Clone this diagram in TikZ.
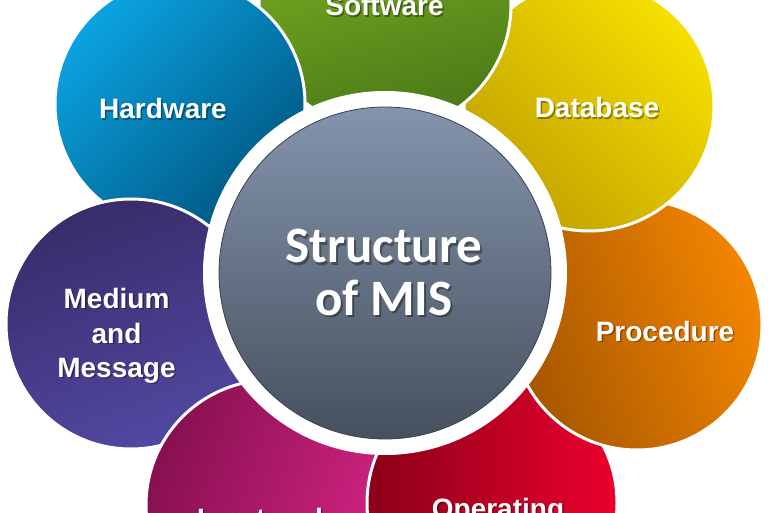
\documentclass[tikz,border=0pt]{standalone}
\usepackage{fontspec}
\newfontfamily\labfont{Liberation Sans}
\newfontfamily\ctrfont{Carlito}
\definecolor{hwA}{RGB}{10,164,226}
\definecolor{hwB}{RGB}{0,86,128}
\definecolor{swA}{RGB}{126,180,34}
\definecolor{swB}{RGB}{74,120,24}
\definecolor{dbA}{RGB}{246,224,0}
\definecolor{dbB}{RGB}{194,162,0}
\definecolor{prA}{RGB}{244,134,0}
\definecolor{prB}{RGB}{166,86,0}
\definecolor{opA}{RGB}{236,0,46}
\definecolor{opB}{RGB}{138,0,24}
\definecolor{inA}{RGB}{214,36,132}
\definecolor{inB}{RGB}{134,16,80}
\definecolor{meA}{RGB}{56,44,106}
\definecolor{meB}{RGB}{82,72,162}
\definecolor{ctA}{RGB}{132,148,172}
\definecolor{ctB}{RGB}{70,80,94}
\tikzset{
  petal/.style={draw=white, line width=3pt},
  lbl/.style={text=white, font=\labfont\bfseries\fontsize{28}{30}\selectfont, anchor=base, inner sep=0pt},
  shd/.style={text=black, opacity=0.35, font=\labfont\bfseries\fontsize{28}{30}\selectfont, anchor=base, inner sep=0pt, xshift=1.5pt, yshift=-1.5pt},
  clbl/.style={text=white, font=\ctrfont\bfseries\fontsize{51}{54}\selectfont, anchor=base, inner sep=0pt},
  cshd/.style={text=black, opacity=0.35, font=\ctrfont\bfseries\fontsize{51}{54}\selectfont, anchor=base, inner sep=0pt, xshift=2pt, yshift=-2pt}
}
\newcommand\petallabel[3]{%
  \node[shd] (#1s) at (#2) {#3};
  \node[lbl] (#1) at (#2) {#3};}
\begin{document}
\begin{tikzpicture}[x=1pt,y=1pt]
\useasboundingbox (0,0) rectangle (768,512);
\fill[white] (0,0) rectangle (768,512);
\clip (0,0) rectangle (768,512);
% petals (cyclic overlap)
\path[petal, top color=hwA, bottom color=hwB, shading angle=45] (180,408) circle[radius=125];
\path[petal, top color=meA, bottom color=meB, shading angle=20] (131,188) circle[radius=125];
\path[petal, top color=inA, bottom color=inB, shading angle=-110] (271,7) circle[radius=125];
\path[petal, top color=opA, bottom color=opB, shading angle=-90] (492,9) circle[radius=125];
\path[petal, top color=prA, bottom color=prB, shading angle=-70] (637,187) circle[radius=125];
\path[petal, top color=dbA, bottom color=dbB, shading angle=-45] (589,406) circle[radius=125];
\path[petal, top color=swA, bottom color=swB, shading angle=15] (385,507) circle[radius=126];
\begin{scope}
  \clip (0,317) rectangle (768,512);
  \path[petal, top color=hwA, bottom color=hwB, shading angle=45] (180,408) circle[radius=125];
\end{scope}
% centre
\fill[white] (385,239) circle[radius=182];
\path[draw=ctB!80!black, line width=0.8pt, top color=ctA, bottom color=ctB] (385,239) circle[radius=166];
% labels
\petallabel{sw}{384.5,496}{Software}
\petallabel{hw}{163,393}{Hardware}
\petallabel{db}{597,394}{Database}
\petallabel{pr}{665,171}{Procedure}
\petallabel{me1}{116.5,204}{Medium}
\petallabel{me2}{116.5,169}{and}
\petallabel{me3}{116.5,135}{Message}
\petallabel{in}{260,-16}{Input and}
\petallabel{op}{498,-6}{Operating}
\node[cshd] (c1s) at (384,249) {Structure};
\node[clbl] (c1) at (384,249) {Structure};
\node[cshd] (c2s) at (384,197) {of MIS};
\node[clbl] (c2) at (384,197) {of MIS};
\end{tikzpicture}
\end{document}
